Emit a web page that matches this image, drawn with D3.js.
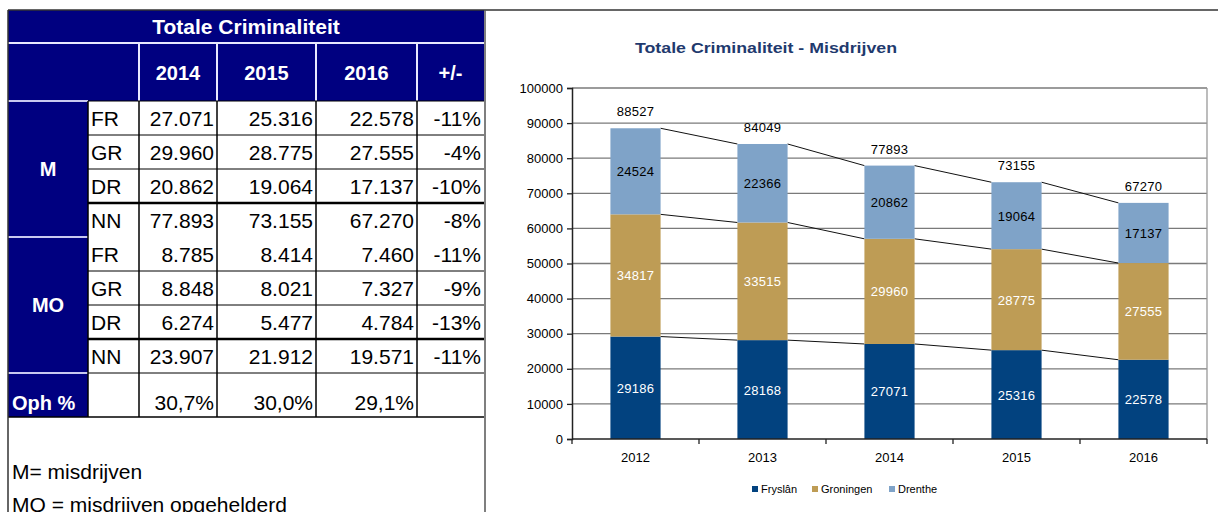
<!DOCTYPE html>
<html>
<head>
<meta charset="utf-8">
<script src="https://cdn.jsdelivr.net/npm/d3@7"></script>
<style>
  body { margin: 0; background: #fff; }
  svg { display: block; font-family: "Liberation Sans", Arial, sans-serif; }
</style>
</head>
<body>
<svg id="chart" width="1218" height="512"></svg>
<script>
// table data
var tblYears = ["2014", "2015", "2016"];
var rowCodes = ["FR", "GR", "DR", "NN"];
var mVals = [[27071, 25316, 22578], [29960, 28775, 27555], [20862, 19064, 17137], [77893, 73155, 67270]];
var mDiff = ["-11%", "-4%", "-10%", "-8%"];
var moVals = [[8785, 8414, 7460], [8848, 8021, 7327], [6274, 5477, 4784], [23907, 21912, 19571]];
var moDiff = ["-11%", "-9%", "-13%", "-11%"];
var ophPct = ["30,7%", "30,0%", "29,1%"];

// chart data
var years = ["2012", "2013", "2014", "2015", "2016"];
var fryslan = [29186, 28168, 27071, 25316, 22578];
var groningen = [34817, 33515, 29960, 28775, 27555];
var drenthe = [24524, 22366, 20862, 19064, 17137];
var seriesNames = ["Fryslân", "Groningen", "Drenthe"];
var yTicks = [0, 10000, 20000, 30000, 40000, 50000, 60000, 70000, 80000, 90000, 100000];

var NAVY = "#000080";
var nl = d3.formatLocale({decimal: ",", thousands: ".", grouping: [3], currency: ["€", ""]});
var fmt = nl.format(",d");

var svg = d3.select("#chart");

// ---------- table ----------
var colX = [8, 88, 139, 217, 316, 417, 484];
var rowH = 34;
var bodyTop = 101;
var T = svg.append("g");

// blue header block
T.append("rect").attr("x", colX[0]).attr("y", 10).attr("width", colX[6] - colX[0]).attr("height", bodyTop - 10).attr("fill", NAVY);
T.append("text").attr("x", (colX[0] + colX[6]) / 2).attr("y", 34)
  .attr("text-anchor", "middle").attr("fill", "#fff").style("font-weight", "bold").style("font-size", "21px")
  .text("Totale Criminaliteit");
T.append("line").attr("x1", colX[0]).attr("x2", colX[6]).attr("y1", 43).attr("y2", 43).attr("stroke", "#e8e8ff").attr("stroke-width", 2);
[2, 3, 4, 5].forEach(function(i) {
  T.append("line").attr("x1", colX[i]).attr("x2", colX[i]).attr("y1", 43).attr("y2", bodyTop).attr("stroke", "#e8e8ff").attr("stroke-width", 2);
});
tblYears.concat(["+/-"]).forEach(function(h, i) {
  T.append("text").attr("x", (colX[i + 2] + colX[i + 3]) / 2).attr("y", 80)
    .attr("text-anchor", "middle").attr("fill", "#fff").style("font-weight", "bold").style("font-size", "20px")
    .text(h);
});

// body blocks
function block(top, label, vals, diff) {
  T.append("rect").attr("x", colX[0]).attr("y", top).attr("width", colX[1] - colX[0]).attr("height", rowH * 4).attr("fill", NAVY);
  T.append("line").attr("x1", colX[0]).attr("x2", colX[1]).attr("y1", top).attr("y2", top).attr("stroke", "#c8c8f0").attr("stroke-width", 2);
  T.append("text").attr("x", (colX[0] + colX[1]) / 2).attr("y", top + rowH * 2 + 7)
    .attr("text-anchor", "middle").attr("fill", "#fff").style("font-weight", "bold").style("font-size", "20px").text(label);
  rowCodes.forEach(function(code, r) {
    var y = top + r * rowH;
    var base = y + rowH / 2 + 8;
    T.append("text").attr("x", colX[1] + 3).attr("y", base).style("font-size", "21px").text(code);
    vals[r].forEach(function(v, c) {
      T.append("text").attr("x", colX[c + 3] - 3).attr("y", base).attr("text-anchor", "end").style("font-size", "21px").text(fmt(v));
    });
    T.append("text").attr("x", colX[6] - 3).attr("y", base).attr("text-anchor", "end").style("font-size", "21px").text(diff[r]);
    if (r > 0) {
      T.append("line").attr("x1", colX[1]).attr("x2", colX[6]).attr("y1", y).attr("y2", y)
        .attr("stroke", "#000").attr("stroke-width", r === 3 ? 2.5 : 1);
    }
  });
}
block(bodyTop, "M", mVals, mDiff);
block(bodyTop + rowH * 4, "MO", moVals, moDiff);

var ophTop = bodyTop + rowH * 8, ophBot = ophTop + 44;
T.append("rect").attr("x", colX[0]).attr("y", ophTop).attr("width", colX[1] - colX[0]).attr("height", ophBot - ophTop).attr("fill", NAVY);
T.append("line").attr("x1", colX[0]).attr("x2", colX[1]).attr("y1", ophTop).attr("y2", ophTop).attr("stroke", "#c8c8f0").attr("stroke-width", 2);
T.append("text").attr("x", 12).attr("y", ophTop + 37).attr("fill", "#fff").style("font-weight", "bold").style("font-size", "20px").text("Oph %");
ophPct.forEach(function(p, c) {
  T.append("text").attr("x", colX[c + 3] - 3).attr("y", ophTop + 37).attr("text-anchor", "end").style("font-size", "21px").text(p);
});

// grid lines of table body
T.append("line").attr("x1", colX[1]).attr("x2", colX[6]).attr("y1", bodyTop).attr("y2", bodyTop).attr("stroke", "#000");
T.append("line").attr("x1", colX[1]).attr("x2", colX[6]).attr("y1", ophTop).attr("y2", ophTop).attr("stroke", "#000");
T.append("line").attr("x1", colX[0]).attr("x2", colX[6]).attr("y1", ophBot).attr("y2", ophBot).attr("stroke", "#000").attr("stroke-width", 1.5);
[1, 2, 3, 4, 5].forEach(function(i) {
  T.append("line").attr("x1", colX[i]).attr("x2", colX[i]).attr("y1", bodyTop).attr("y2", ophBot).attr("stroke", "#000").attr("stroke-width", 1.5);
});

// notes
T.append("text").attr("x", 12).attr("y", 479).style("font-size", "21px").text("M= misdrijven");
T.append("text").attr("x", 12).attr("y", 512).style("font-size", "21px").text("MO = misdrijven opgehelderd");

// frame
svg.append("line").attr("x1", 8).attr("x2", 1218).attr("y1", 10).attr("y2", 10).attr("stroke", "#333").attr("stroke-width", 1.5);
svg.append("line").attr("x1", 8).attr("x2", 8).attr("y1", 10).attr("y2", 512).attr("stroke", "#333").attr("stroke-width", 1.5);
svg.append("line").attr("x1", 485).attr("x2", 485).attr("y1", 10).attr("y2", 512).attr("stroke", "#555").attr("stroke-width", 1.5);

// ---------- chart ----------
var plot = {left: 572, right: 1207, top: 88, bottom: 439};
var x = d3.scaleBand().domain(years).range([plot.left, plot.right]);
var y = d3.scaleLinear().domain([0, 100000]).range([plot.bottom, plot.top]);
var barW = x.bandwidth() * 0.395;
var colors = ["#02427f", "#be9c55", "#7fa3c8"];
var labelColors = ["#fff", "#fff", "#000"];

var C = svg.append("g");
C.append("text").attr("x", 635).attr("y", 53)
  .attr("textLength", 262).attr("lengthAdjust", "spacingAndGlyphs")
  .attr("fill", "#1f3a6e").style("font-weight", "bold").style("font-size", "15px")
  .text("Totale Criminaliteit - Misdrijven");

// gridlines
C.append("g").selectAll("line").data(yTicks.slice(1)).join("line")
  .attr("x1", plot.left).attr("x2", plot.right)
  .attr("y1", function(d) { return y(d); }).attr("y2", function(d) { return y(d); })
  .attr("stroke", "#7a7a7a").attr("stroke-width", 1.3);
C.append("line").attr("x1", plot.right).attr("x2", plot.right).attr("y1", plot.top).attr("y2", plot.bottom)
  .attr("stroke", "#999").attr("stroke-width", 1.3);

var tbl = years.map(function(yr, i) { return {year: yr, s0: fryslan[i], s1: groningen[i], s2: drenthe[i]}; });
var stack = d3.stack().keys(["s0", "s1", "s2"])(tbl);

// series lines between bars
stack.forEach(function(layer) {
  for (var i = 0; i < years.length - 1; i++) {
    C.append("line")
      .attr("x1", x(years[i]) + x.bandwidth() / 2 + barW / 2).attr("y1", y(layer[i][1]))
      .attr("x2", x(years[i + 1]) + x.bandwidth() / 2 - barW / 2).attr("y2", y(layer[i + 1][1]))
      .attr("stroke", "#111").attr("stroke-width", 1);
  }
});

stack.forEach(function(layer, k) {
  var g = C.append("g");
  g.selectAll("rect").data(layer).join("rect")
    .attr("x", function(d) { return x(d.data.year) + x.bandwidth() / 2 - barW / 2; })
    .attr("y", function(d) { return y(d[1]); })
    .attr("width", barW)
    .attr("height", function(d) { return y(d[0]) - y(d[1]); })
    .attr("fill", colors[k]);
  g.selectAll("text").data(layer).join("text")
    .attr("x", function(d) { return x(d.data.year) + x.bandwidth() / 2; })
    .attr("y", function(d) { return y((d[0] + d[1]) / 2) + 5; })
    .attr("text-anchor", "middle").attr("fill", labelColors[k])
    .style("font-size", "13px").style("letter-spacing", "0.3px")
    .text(function(d) { return d[1] - d[0]; });
});

// totals
C.append("g").selectAll("text").data(stack[2]).join("text")
  .attr("x", function(d) { return x(d.data.year) + x.bandwidth() / 2; })
  .attr("y", function(d) { return y(d[1]) - 12; })
  .attr("text-anchor", "middle").style("font-size", "13px").style("letter-spacing", "0.3px")
  .text(function(d) { return d[1]; });

// axes
var yAxis = C.append("g").attr("transform", "translate(" + plot.left + ",0)")
  .call(d3.axisLeft(y).tickValues(yTicks).tickSize(5).tickPadding(4).tickFormat(d3.format("d")));
yAxis.select(".domain").attr("stroke", "#222").attr("stroke-width", 1.5);
yAxis.selectAll(".tick line").attr("stroke", "#222").attr("stroke-width", 1.3);
yAxis.selectAll(".tick text").style("font-size", "13px").style("font-family", "Liberation Sans, Arial, sans-serif").attr("fill", "#000");

var xb = C.append("g");
xb.append("line").attr("x1", plot.left).attr("x2", plot.right).attr("y1", plot.bottom).attr("y2", plot.bottom)
  .attr("stroke", "#222").attr("stroke-width", 1.5);
xb.selectAll("line.t").data(d3.range(years.length + 1)).join("line").attr("class", "t")
  .attr("x1", function(i) { return plot.left + i * x.step(); })
  .attr("x2", function(i) { return plot.left + i * x.step(); })
  .attr("y1", plot.bottom).attr("y2", plot.bottom + 5)
  .attr("stroke", "#222").attr("stroke-width", 1.3);
xb.selectAll("text").data(years).join("text")
  .attr("x", function(d) { return x(d) + x.bandwidth() / 2; })
  .attr("y", 462).attr("text-anchor", "middle").style("font-size", "13px")
  .text(function(d) { return d; });

// legend
var legX = [752, 812, 889];
var leg = C.append("g").selectAll("g").data(seriesNames).join("g")
  .attr("transform", function(d, i) { return "translate(" + legX[i] + ",489)"; });
leg.append("rect").attr("x", 0).attr("y", -3).attr("width", 6).attr("height", 6)
  .attr("fill", function(d, i) { return colors[i]; });
leg.append("text").attr("x", 9).attr("y", 4).style("font-size", "11px").text(function(d) { return d; });
</script>
</body>
</html>
